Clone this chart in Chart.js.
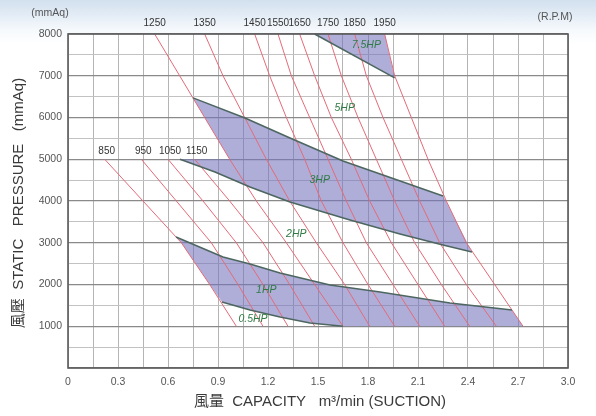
<!DOCTYPE html>
<html><head><meta charset="utf-8">
<script src="https://cdn.jsdelivr.net/npm/chart.js@4.4.0/dist/chart.umd.min.js"></script>
<style>
html,body{margin:0;padding:0;}
body{width:596px;height:416px;overflow:hidden;background:linear-gradient(to bottom,#d2e0ee 0px,#e4edf6 16px,#f6f9fc 30px,#ffffff 44px);}
#wrap{position:relative;width:596px;height:416px;}
</style></head><body>
<div id="wrap"><canvas id="c" width="596" height="416"></canvas></div>
<script>
// ---- tick labels ----
const xTickLabels = ['0','0.3','0.6','0.9','1.2','1.5','1.8','2.1','2.4','2.7','3.0'];
const yTickLabels = ['1000','2000','3000','4000','5000','6000','7000','8000'];

// ---- RPM lines (x = capacity m3/min at each pressure level) ----
const pressureTop = [8000,7000,6000,5000,4000,3000,2000,1000];
const pressureLow = [5000,4000,3000,2000,1000];
const rpmLowNames = ['850','950','1050','1150'];
const rpm850  = [0.22,0.45,0.68,0.85,1.01];
const rpm950  = [0.44,0.65,0.86,1.02,1.17];
const rpm1050 = [0.60,0.81,1.01,1.17,1.32];
const rpm1150 = [0.76,0.97,1.17,1.33,1.48];
const rpmTopNames = ['1250','1350','1450','1550','1650','1750','1850','1950'];
const rpm1250 = [0.52,0.67,0.82,0.97,1.13,1.31,1.48,1.65];
const rpm1350 = [0.82,0.93,1.06,1.19,1.33,1.49,1.66,1.81];
const rpm1450 = [1.12,1.21,1.31,1.42,1.52,1.65,1.80,1.96];
const rpm1550 = [1.26,1.34,1.45,1.56,1.67,1.79,1.95,2.11];
const rpm1650 = [1.39,1.48,1.58,1.70,1.81,1.94,2.10,2.26];
const rpm1750 = [1.56,1.64,1.74,1.85,1.96,2.08,2.24,2.41];
const rpm1850 = [1.72,1.79,1.89,2.00,2.11,2.23,2.39,2.57];
const rpm1950 = [1.90,1.96,2.06,2.16,2.27,2.39,2.56,2.73];

// ---- HP boundary curves [x, y] ----
const curve7_5HP = [[1.48,8000],[1.96,6950]];
const curve3HPtop = [[0.75,6470],[1.062,5990],[1.332,5510],[1.65,4960],[1.95,4540],[2.25,4120]];
const curve2HP = [[0.672,5000],[0.882,4695],[1.092,4335],[1.332,3976],[1.692,3545],[1.992,3210],[2.25,2946],[2.424,2778]];
const curve1HPtop = [[0.648,3140],[0.93,2660],[1.092,2490],[1.272,2275],[1.572,1990],[1.872,1820],[2.292,1557],[2.664,1390]];
const curve05HP = [[0.924,1580],[1.092,1390],[1.272,1222],[1.452,1078],[1.65,1000]];

// ---- shaded regions ----
const region7_5HP = [[1.48,8000],[1.90,8000],[1.96,6950],[1.48,8000]];
const region3HP = [[0.75,6470],[1.062,5990],[1.332,5510],[1.65,4960],[1.95,4540],[2.25,4120],[2.268,4000],[2.424,2778],
  [2.25,2946],[1.992,3210],[1.692,3545],[1.332,3976],[1.092,4335],[0.882,4695],[0.672,5000],[0.97,5000],[0.82,6000],[0.75,6470]];
const region1HP = [[0.648,3140],[0.93,2660],[1.092,2490],[1.272,2275],[1.572,1990],[1.872,1820],[2.292,1557],[2.664,1390],[2.73,1000],
  [1.65,1000],[1.452,1078],[1.272,1222],[1.092,1390],[0.924,1580],[0.85,2000],[0.68,3000],[0.648,3140]];

// ---- HP labels ----
const hpNames = ['7.5HP','5HP','3HP','2HP','1HP','0.5HP'];
const hpX = [1.79,1.66,1.51,1.37,1.19,1.11];
const hpY = [7740,6230,4500,3210,1870,1170];

const toPts = (xs, ys) => xs.map((x,i)=>({x:x, y:ys[i]}));
const pairPts = arr => arr.map(p=>({x:p[0], y:p[1]}));

const RED = '#e46b78';
const EDGE = '#4d6660';
const FILL = 'rgba(115,115,190,0.58)';
const SANS = '"Liberation Sans", Arial, sans-serif';

const datasets = [];
[region7_5HP, region3HP, region1HP].forEach(r => datasets.push({
  data: pairPts(r), showLine:true, fill:'shape', backgroundColor:FILL, borderColor:'rgba(0,0,0,0)', borderWidth:0, pointRadius:0, order:3
}));
const lowLines = [rpm850,rpm950,rpm1050,rpm1150];
const topLines = [rpm1250,rpm1350,rpm1450,rpm1550,rpm1650,rpm1750,rpm1850,rpm1950];
lowLines.forEach(l => datasets.push({data: toPts(l, pressureLow), showLine:true, borderColor:RED, borderWidth:1, pointRadius:0, fill:false, order:2}));
topLines.forEach(l => datasets.push({data: toPts(l, pressureTop), showLine:true, borderColor:RED, borderWidth:1, pointRadius:0, fill:false, order:2}));
[curve7_5HP, curve3HPtop, curve2HP, curve1HPtop, curve05HP].forEach(c => datasets.push({
  data: pairPts(c), showLine:true, borderColor:EDGE, borderWidth:1.6, pointRadius:0, fill:false, order:1
}));

const deco = {
  id:'deco',
  beforeDraw(chart){
    const {ctx, chartArea:a} = chart;
    ctx.save(); ctx.fillStyle='#ffffff'; ctx.fillRect(a.left,a.top,a.right-a.left,a.bottom-a.top); ctx.restore();
  },
  afterDatasetsDraw(chart){
    const {ctx, chartArea:a} = chart;
    ctx.save(); ctx.strokeStyle='#5a5a5a'; ctx.lineWidth=1.6;
    ctx.strokeRect(a.left,a.top,a.right-a.left,a.bottom-a.top); ctx.restore();
  },
  afterDraw(chart){
    const {ctx, scales} = chart;
    const xs = scales.x, ys = scales.y;
    ctx.save();
    ctx.fillStyle='#333'; ctx.font='10px ' + SANS;
    ctx.textAlign='center'; ctx.textBaseline='middle';
    topLines.forEach((l,i)=> ctx.fillText(rpmTopNames[i], xs.getPixelForValue(l[0]), ys.getPixelForValue(pressureTop[0]) - 11));
    lowLines.forEach((l,i)=> ctx.fillText(rpmLowNames[i], xs.getPixelForValue(l[0]) + 2, ys.getPixelForValue(pressureLow[0]) - 8));
    ctx.fillStyle='#555'; ctx.font='10.5px ' + SANS;
    ctx.fillText('(mmAq)', 50, 13);
    ctx.fillText('(R.P.M)', 555, 17);
    // HP labels
    ctx.fillStyle='#2f7a45'; ctx.font='italic 10.5px ' + SANS;
    hpNames.forEach((n,i)=> ctx.fillText(n, xs.getPixelForValue(hpX[i]), ys.getPixelForValue(hpY[i])));
    // axis titles
    ctx.fillStyle='#3a3a3a'; ctx.font='15px "Liberation Sans", "Noto Sans CJK TC", sans-serif';
    ctx.fillText('風量  CAPACITY   m³/min (SUCTION)', 320, 402);
    ctx.translate(19, 203); ctx.rotate(-Math.PI/2);
    ctx.fillText('風壓  STATIC   PRESSURE   (mmAq)', 0, 0);
    ctx.restore();
  }
};

new Chart(document.getElementById('c'), {
  type:'scatter',
  data:{datasets},
  options:{
    responsive:false, animation:false, devicePixelRatio:1,
    layout:{padding:{top:34,right:28,left:0,bottom:0}},
    plugins:{legend:{display:false}, tooltip:{enabled:false}},
    scales:{
      x:{type:'linear', min:0, max:3, afterFit:s=>{s.height=48;},
        ticks:{stepSize:0.15, autoSkip:false, maxRotation:0, padding:8, color:'#555',
          font:{size:10.5, family:SANS},
          callback:(v,i)=> i%2===0 ? xTickLabels[i/2] : ''},
        grid:{drawTicks:false, color:'#b4b4b4', lineWidth:1},
        border:{display:false}},
      y:{type:'linear', min:0, max:8000, afterFit:s=>{s.width=68;},
        ticks:{stepSize:500, autoSkip:false, padding:6, color:'#555',
          font:{size:10.5, family:SANS},
          callback:(v,i)=> (i%2===0 && i>0) ? yTickLabels[i/2-1] : ''},
        grid:{drawTicks:false, color:c=> (c.tick && c.tick.value%1000===0) ? '#8a8a8a' : '#c2c2c2', lineWidth:c=> (c.tick && c.tick.value%1000===0) ? 1.3 : 1},
        border:{display:false}}
    }
  },
  plugins:[deco]
});
</script>
</body></html>
